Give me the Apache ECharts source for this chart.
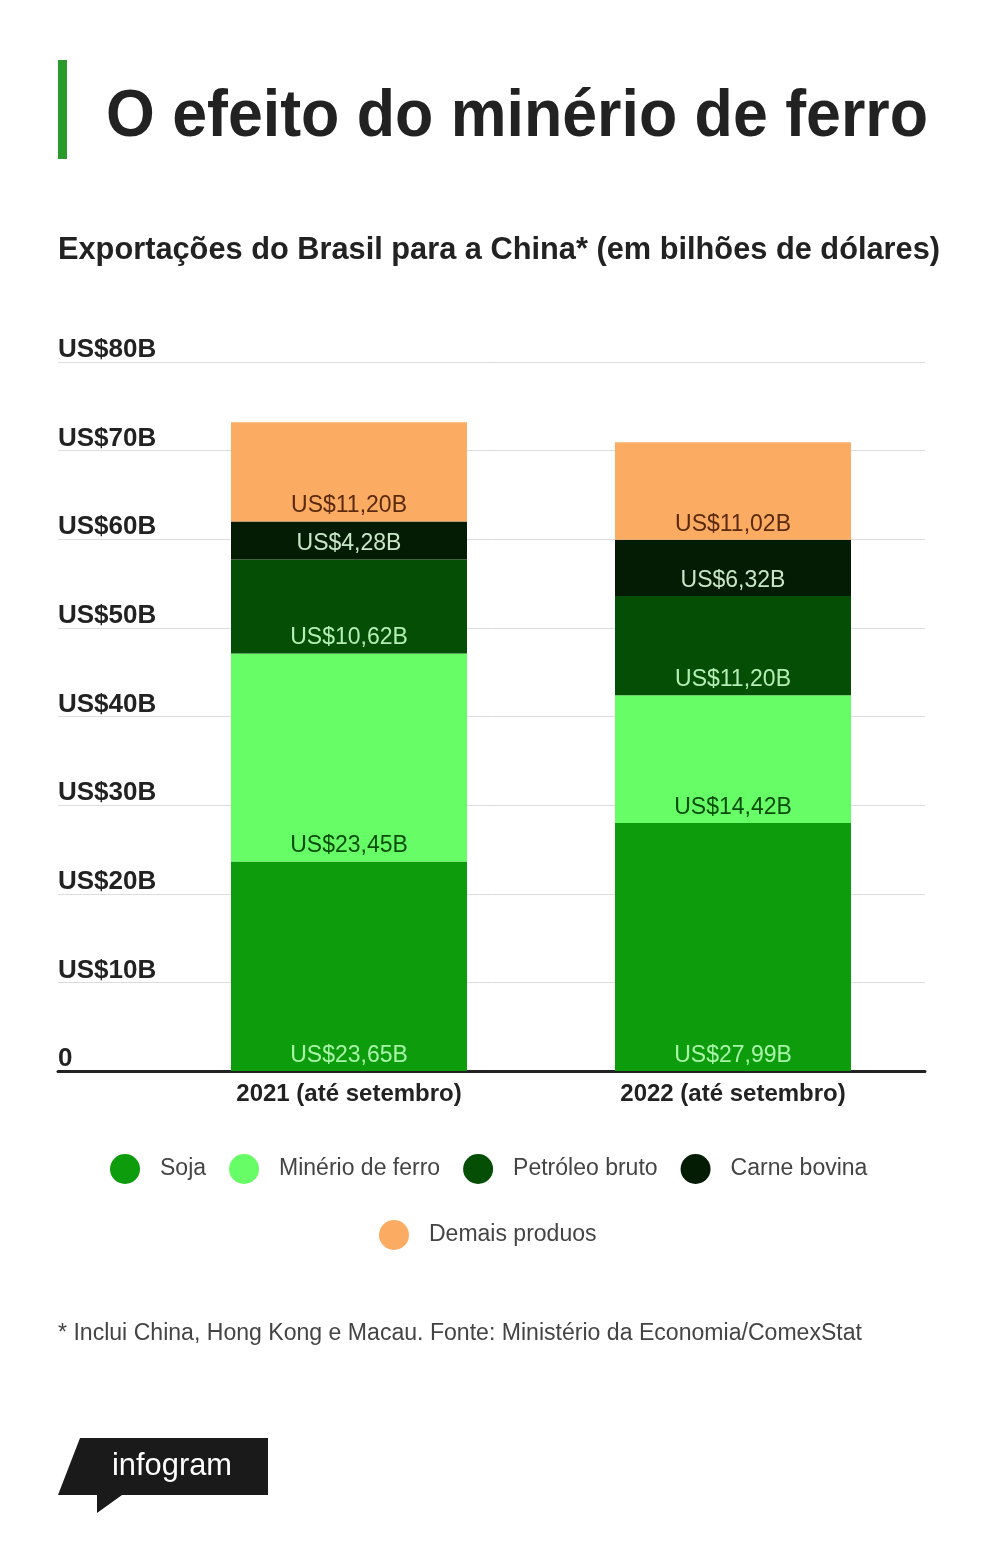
<!DOCTYPE html>
<html>
<head>
<meta charset="utf-8">
<script src="https://cdn.jsdelivr.net/npm/echarts@6/dist/echarts.min.js"></script>
<style>
  html, body { margin: 0; padding: 0; background: #fff; }
  #chart { width: 1000px; height: 1544px; }
</style>
</head>
<body>
<div id="chart"></div>
<script>
// dados (bilhões de dólares)
var categories = ['2021 (até setembro)', '2022 (até setembro)'];
var seriesNames = ['Soja', 'Minério de ferro', 'Petróleo bruto', 'Carne bovina', 'Demais produos'];
var soja = [23.65, 27.99];
var minerio = [23.45, 14.42];
var petroleo = [10.62, 11.20];
var carne = [4.28, 6.32];
var demais = [11.20, 11.02];

var colors = ['#0c9c0c', '#66fd66', '#054e05', '#031c03', '#fcab63'];
var labelColors = ['#a8f5a8', '#0a4d0a', '#b5eeb5', '#c8e6c8', '#5a2a0e'];
var values = [soja, minerio, petroleo, carne, demais];

var sans = '"Liberation Sans", Arial, sans-serif';

var titleText = 'O efeito do minério de ferro';
var subText = 'Exportações do Brasil para a China* (em bilhões de dólares)';
var noteText = '* Inclui China, Hong Kong e Macau. Fonte: Ministério da Economia/ComexStat';

function fmt(v) {
  return 'US$' + v.toFixed(2).replace('.', ',') + 'B';
}

// squeeze a text line to a given width (the original uses a condensed face)
var measureCtx = document.createElement('canvas').getContext('2d');
function squeeze(txt, font, width) {
  measureCtx.font = font;
  return width / measureCtx.measureText(txt).width;
}

function lineText(txt, font, x, y, width, fill) {
  var s = squeeze(txt, font, width);
  return {
    type: 'text', x: x, y: y, scaleX: s, silent: true,
    style: { text: txt, font: font, fill: fill, textAlign: 'left', textVerticalAlign: 'middle' }
  };
}

var chart = echarts.init(document.getElementById('chart'));

var series = seriesNames.map(function (name, i) {
  return {
    name: name,
    type: 'bar',
    stack: 'total',
    xAxisIndex: 1,
    yAxisIndex: 1,
    barWidth: 236,
    data: values[i],
    itemStyle: { color: colors[i] },
    label: {
      show: true,
      position: 'insideBottom',
      distance: 4,
      color: labelColors[i],
      fontFamily: sans,
      fontSize: 23,
      formatter: function (p) { return fmt(p.value); }
    },
    emphasis: { disabled: true }
  };
});

var titleFont = 'bold 66px ' + sans;
var subFont = 'bold 32px ' + sans;
var noteFont = '23px ' + sans;
var logoFont = '32px ' + sans;

var legendText = { fontFamily: sans, fontSize: 23, color: '#444', padding: [0, 0, 0, 15] };

chart.setOption({
  animation: false,
  backgroundColor: '#fff',
  legend: [
    {
      data: seriesNames.slice(0, 4),
      left: 110, top: 1154, padding: 0,
      icon: 'circle', itemWidth: 30, itemHeight: 30, itemGap: 23,
      selectedMode: false,
      textStyle: legendText
    },
    {
      data: seriesNames.slice(4),
      left: 379, top: 1220, padding: 0,
      icon: 'circle', itemWidth: 30, itemHeight: 30,
      selectedMode: false,
      textStyle: legendText
    }
  ],
  grid: [
    { left: 58, right: 75, top: 362, bottom: 473 },
    { left: 157, right: 75, top: 362, bottom: 473 }
  ],
  xAxis: [
    {
      gridIndex: 0, type: 'value', min: 0, max: 1,
      axisLine: { show: true, lineStyle: { color: '#222', width: 3 } },
      axisTick: { show: false }, axisLabel: { show: false }, splitLine: { show: false }
    },
    {
      gridIndex: 1, type: 'category', data: categories,
      axisLine: { show: false }, axisTick: { show: false },
      axisLabel: {
        margin: 11, color: '#222', fontFamily: sans, fontWeight: 'bold', fontSize: 24
      }
    }
  ],
  yAxis: [
    {
      gridIndex: 0, type: 'value', min: 0, max: 80, interval: 10,
      axisLine: { show: false }, axisTick: { show: false },
      splitLine: { lineStyle: { color: '#dcdcdc', width: 1 } },
      axisLabel: {
        inside: true, margin: 0, verticalAlign: 'bottom', lineHeight: 24,
        color: '#222', fontFamily: sans, fontWeight: 'bold', fontSize: 26,
        formatter: function (v) { return v === 0 ? '0' : 'US$' + v + 'B'; }
      }
    },
    {
      gridIndex: 1, type: 'value', min: 0, max: 80, interval: 10,
      show: false
    }
  ],
  graphic: [
    { type: 'rect', shape: { x: 58, y: 60, width: 9, height: 99 }, style: { fill: '#2a9a2a' } },
    lineText(titleText, titleFont, 106, 118, 822, '#222'),
    lineText(subText, subFont, 58, 250, 882, '#222'),
    lineText(noteText, noteFont, 58, 1334, 804, '#444'),
    {
      type: 'polygon',
      shape: { points: [[80, 1438], [268, 1438], [268, 1495], [122, 1495], [97, 1513], [97, 1495], [58, 1495]] },
      style: { fill: '#1a1a1a' }
    },
    lineText('infogram', logoFont, 112, 1466, 120, '#fff')
  ],
  series: series
});
</script>
</body>
</html>
